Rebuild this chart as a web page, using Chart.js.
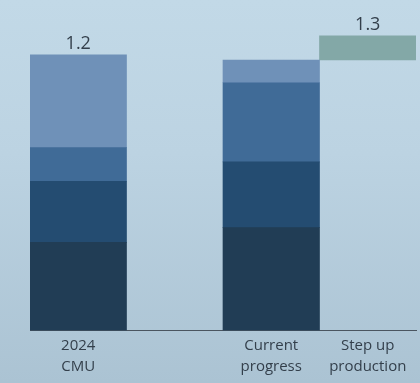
<!doctype html>
<html>

<head>
    <title>CMU step up</title>
    <script src="https://cdn.jsdelivr.net/npm/chart.js@4/dist/chart.umd.min.js"></script>
    <style>
        html, body {
            margin: 0;
            padding: 0;
        }
        body {
            width: 420px;
            height: 383px;
            overflow: hidden;
            background: linear-gradient(180deg, #c2d9e7 0%, #bcd3e2 40%, #abc3d3 100%);
        }
        #container {
            position: relative;
            width: 420px;
            height: 383px;
        }
    </style>
</head>

<body>
    <div id="container">
        <canvas id="canvas"></canvas>
    </div>
    <script>
        var categories = [['2024', 'CMU'], '', ['Current', 'progress'], ['Step up', 'production']];
        // stacked pieces, bottom to top
        var segment1 = [0.384, null, 0.448, null];
        var segment2 = [0.266, null, 0.286, null];
        var segment3 = [0.146, null, 0.345, null];
        var segment4 = [0.404, null, 0.099, null];
        var stepUp = [null, null, null, [1.178, 1.283]];
        var totalLabels = ['1.2', '', '', '1.3'];

        var segColors = ['#213d55', '#244c71', '#406b97', '#6f91b8'];
        var stepColor = '#83a8a7';
        var textColor = '#333f4b';
        var fontFamily = '"Open Sans", "Noto Sans", sans-serif';

        function seg(data, c) {
            return {
                data: data,
                backgroundColor: c,
                borderWidth: 0,
                barPercentage: 1,
                categoryPercentage: 1
            };
        }

        var totalsPlugin = {
            id: 'totals',
            afterDatasetsDraw: function (chart) {
                var ctx = chart.ctx;
                var y = chart.scales.y;
                var x = chart.scales.x;
                ctx.save();
                ctx.fillStyle = textColor;
                ctx.font = '18px ' + fontFamily;
                ctx.textAlign = 'center';
                ctx.textBaseline = 'bottom';
                totalLabels.forEach(function (lbl, i) {
                    if (!lbl) return;
                    var top = 0;
                    chart.data.datasets.forEach(function (ds) {
                        var v = ds.data[i];
                        if (v == null) return;
                        if (Array.isArray(v)) top = Math.max(top, v[1]);
                        else top += v;
                    });
                    ctx.fillText(lbl, x.getPixelForValue(i), y.getPixelForValue(top) - 2);
                });
                ctx.restore();
            }
        };

        window.onload = function () {
            var ctx = document.getElementById('canvas').getContext('2d');
            window.myBar = new Chart(ctx, {
                type: 'bar',
                data: {
                    labels: categories,
                    datasets: [
                        seg(segment1, segColors[0]),
                        seg(segment2, segColors[1]),
                        seg(segment3, segColors[2]),
                        seg(segment4, segColors[3]),
                        seg(stepUp, stepColor)
                    ]
                },
                options: {
                    responsive: true,
                    maintainAspectRatio: false,
                    animation: false,
                    layout: {
                        padding: { left: 30, right: 4, top: 9, bottom: 1 }
                    },
                    plugins: {
                        legend: { display: false },
                        tooltip: { enabled: false }
                    },
                    scales: {
                        x: {
                            stacked: true,
                            grid: { display: false, drawTicks: false },
                            border: { display: true, color: '#4a5560', width: 1 },
                            ticks: {
                                color: textColor,
                                padding: 4,
                                font: { family: fontFamily, size: 15, lineHeight: 1.45 }
                            }
                        },
                        y: {
                            stacked: true,
                            display: false,
                            min: 0,
                            max: 1.4
                        }
                    }
                },
                plugins: [totalsPlugin]
            });
        };
    </script>
</body>

</html>
